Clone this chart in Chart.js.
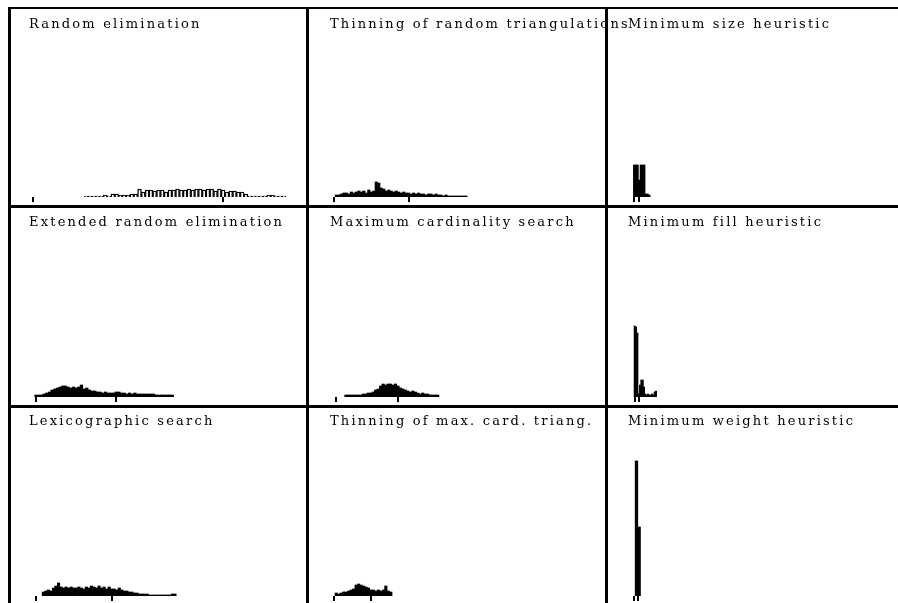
<!DOCTYPE html>
<html>
<head>
<meta charset="utf-8">
<script src="https://cdn.jsdelivr.net/npm/chart.js@4.4.1/dist/chart.umd.min.js"></script>
<style>
  body { margin: 0; background: #fff; }
  #page { position: relative; width: 898px; height: 603px; overflow: hidden; background: #fff; }
  .ln { position: absolute; background: #000; z-index: 1; }
  .ttl { position: absolute; font: 13px "DejaVu Serif", serif; letter-spacing: 2.2px; line-height: 13px; white-space: nowrap; color: #000; z-index: 2; }
  canvas { position: absolute; }
</style>
</head>
<body>
<div id="page"></div>
<script>
// panel titles, row by row
const titles = [
  'Random elimination', 'Thinning of random triangulations', 'Minimum size heuristic',
  'Extended random elimination', 'Maximum cardinality search', 'Minimum fill heuristic',
  'Lexicographic search', 'Thinning of max. card. triang.', 'Minimum weight heuristic'
];

// histogram counts, one bin per unit, starting at firstBin
const randElim = [1,1,1,1,1,2,1,3,3,2,2,2,3,3,8,5,7,7,6,7,7,5,7,7,8,7,7,8,7,8,8,7,8,8,6,8,7,5,6,6,5,5,3,1,1,1,1,1,2,2,1,1,1];
const thinRand = [2,2,3,4,4,3,5,4,5,6,5,6,4,7,5,6,15,14,9,8,6,7,6,5,6,5,4,5,4,4,3,4,3,4,3,3,2,3,3,2,3,2,2,1,2,1,1,1,1,1,1,1,1];
const minSize = [32,32,32,17,32,32,32,3,3,2];
const extRand = [2,2,2,3,4,5,7,8,9,10,11,11,10,9,10,9,10,12,8,9,7,6,6,5,5,4,5,4,4,4,5,5,4,4,3,4,3,4,3,3,3,3,3,3,3,2,2,2,2,2,2,2];
const maxCard = [2,2,2,2,2,2,2,3,3,4,4,5,7,8,11,13,12,13,13,12,13,11,9,8,7,6,5,6,5,4,3,4,3,3,2,2,2,2];
const minFill = [71,70,64,3,12,17,17,10,3,2,3,2,2,3,2,5,6];
const lexSearch = [4,5,6,5,8,10,13,9,8,9,8,9,8,8,9,8,7,9,8,10,9,8,10,8,9,7,9,7,7,6,8,6,5,5,4,4,3,3,2,2,2,2,1,1,1,1,1,1,1,1,1,2,2];
const thinMaxCard = [3,2,3,4,4,5,6,7,11,12,11,10,9,8,6,6,5,6,5,6,10,5,4];
const minWeight = [135,135,69,69];

const panelCounts = [randElim, thinRand, minSize, extRand, maxCard, minFill, lexSearch, thinMaxCard, minWeight];
const firstBin = [14, 1, 0, 0, 4, 0, 3, 1, 1];
const tickValues = [[0,50],[0,30],[0,3],[0,30],[0,25],[0,3],[0,30],[0,15],[0,3]];
const axisMin = [-5.8, -10.0, -15.7, -9.4, -10.9, -20.1, -9.8, -10.0, -19.9];
const axisMax = [71.8, 108.8, 158, 101.1, 108.5, 198, 106.8, 109.4, 198];
const hollow = [true, false, false, false, false, false, false, false, false];
const yMax = 180;

// frame geometry
const colLeft = [11, 309, 608];
const colWidth = [295, 296, 290];
const rowBase = [197, 397, 596];
const titleX = [29, 330, 628];
const titleTop = [17, 215, 414];

const page = document.getElementById('page');
function line(x, y, w, h) {
  const d = document.createElement('div');
  d.className = 'ln';
  d.style.left = x + 'px'; d.style.top = y + 'px';
  d.style.width = w + 'px'; d.style.height = h + 'px';
  page.appendChild(d);
}
line(8, 7, 890, 2);
line(8, 205, 890, 3);
line(8, 405, 890, 3);
line(8, 7, 3, 596);
line(306, 7, 3, 596);
line(605, 7, 3, 596);

for (let i = 0; i < 9; i++) {
  const r = Math.floor(i / 3), c = i % 3;

  const t = document.createElement('div');
  t.className = 'ttl';
  t.textContent = titles[i];
  t.style.left = titleX[c] + 'px';
  t.style.top = titleTop[r] + 'px';
  page.appendChild(t);

  const cv = document.createElement('canvas');
  cv.width = colWidth[c];
  cv.height = yMax + 5;
  cv.style.left = colLeft[c] + 'px';
  cv.style.top = (rowBase[r] - yMax) + 'px';
  page.appendChild(cv);

  const pts = panelCounts[i].map((v, k) => ({ x: firstBin[i] + k, y: v }));
  const ticks = tickValues[i];

  new Chart(cv.getContext('2d'), {
    type: 'bar',
    data: {
      datasets: [{
        data: pts,
        backgroundColor: hollow[i] ? '#fff' : '#000',
        borderColor: '#000',
        borderWidth: hollow[i] ? 1.4 : 0,
        barPercentage: 1,
        categoryPercentage: 1
      }]
    },
    options: {
      responsive: false,
      animation: false,
      devicePixelRatio: 1,
      layout: { padding: 0 },
      plugins: { legend: { display: false }, tooltip: { enabled: false } },
      scales: {
        x: {
          type: 'linear',
          offset: false,
          min: axisMin[i],
          max: axisMax[i],
          afterBuildTicks: s => { s.ticks = ticks.map(v => ({ value: v })); },
          ticks: { display: false },
          border: { display: false },
          grid: { offset: false, drawOnChartArea: false, drawTicks: true, tickLength: 5, lineWidth: 2, color: '#000' }
        },
        y: { display: false, min: 0, max: yMax }
      }
    }
  });
}
</script>
</body>
</html>
